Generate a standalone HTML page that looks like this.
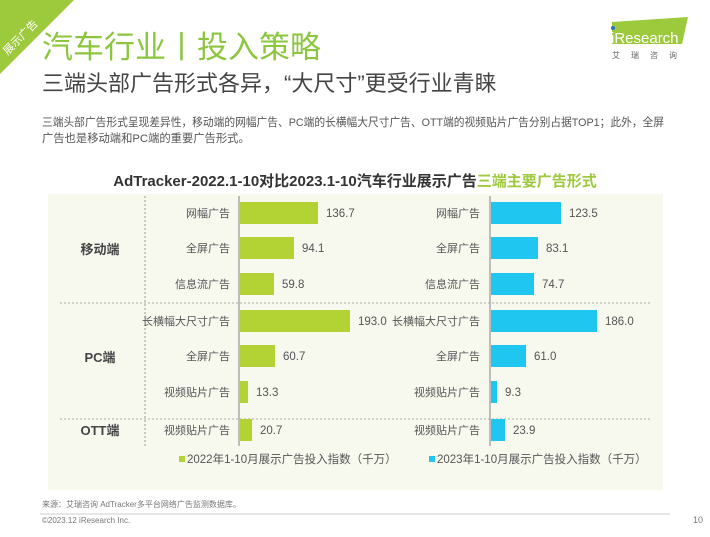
<!DOCTYPE html>
<html><head><meta charset="utf-8"><style>
html,body{margin:0;padding:0;background:#fff;}
body{width:710px;height:532px;overflow:hidden;font-family:"Liberation Sans","Noto Sans CJK SC",sans-serif;}
</style></head><body>
<svg width="710" height="532" xmlns="http://www.w3.org/2000/svg" font-family="Liberation Sans, Noto Sans CJK SC, sans-serif">
<polygon points="0,0 74,0 0,74" fill="#9dc93c"/>
<text x="0" y="0" transform="translate(23,40) rotate(-45)" font-size="11" fill="#fff" text-anchor="middle">展示广告</text>
<text x="42" y="58" font-size="31" fill="#8cc63f">汽车行业丨投入策略</text>
<text x="42" y="91" font-size="22" fill="#444">三端头部广告形式各异，“大尺寸”更受行业青睐</text>
<text x="42" y="126" font-size="11.3" fill="#555" textLength="622" lengthAdjust="spacingAndGlyphs">三端头部广告形式呈现差异性，移动端的网幅广告、PC端的长横幅大尺寸广告、OTT端的视频贴片广告分别占据TOP1；此外，全屏</text>
<text x="42" y="142" font-size="11.3" fill="#555">广告也是移动端和PC端的重要广告形式。</text>
<polygon points="612,22 688,17 682,44 612,44" fill="#9dc93c"/>
<circle cx="613" cy="28" r="2" fill="#2a6fc9"/>
<text x="611" y="43" font-size="15" fill="#fff">iResearch</text>
<text x="612" y="58" font-size="8" fill="#666" letter-spacing="11">艾瑞咨询</text>
<text x="355" y="186" font-size="15" font-weight="bold" fill="#333" text-anchor="middle">AdTracker-2022.1-10对比2023.1-10汽车行业展示广告<tspan fill="#9dc93c">三端主要广告形式</tspan></text>
<rect x="48" y="194" width="615" height="296" fill="#f7f9ef"/>
<line x1="145" y1="196" x2="145" y2="446" stroke="#999" stroke-dasharray="2,2"/>
<line x1="60" y1="303" x2="650" y2="303" stroke="#aaa" stroke-dasharray="2,2"/>
<line x1="60" y1="419" x2="650" y2="419" stroke="#aaa" stroke-dasharray="2,2"/>
<line x1="239" y1="196" x2="239" y2="446" stroke="#aaa" stroke-width="1.5"/>
<line x1="490" y1="196" x2="490" y2="446" stroke="#aaa" stroke-width="1.5"/>
<g font-size="13" font-weight="bold" fill="#444" text-anchor="middle">
<text x="100" y="254">移动端</text><text x="100" y="362">PC端</text><text x="100" y="435">OTT端</text></g>
<g font-size="11" fill="#555" text-anchor="end">
<text x="230" y="217">网幅广告</text><text x="230" y="252">全屏广告</text><text x="230" y="288">信息流广告</text>
<text x="230" y="325">长横幅大尺寸广告</text><text x="230" y="360">全屏广告</text><text x="230" y="396">视频贴片广告</text><text x="230" y="434">视频贴片广告</text>
<text x="480" y="217">网幅广告</text><text x="480" y="252">全屏广告</text><text x="480" y="288">信息流广告</text>
<text x="480" y="325">长横幅大尺寸广告</text><text x="480" y="360">全屏广告</text><text x="480" y="396">视频贴片广告</text><text x="480" y="434">视频贴片广告</text></g>
<g fill="#b3d335">
<rect x="240" y="202" width="78" height="22"/><rect x="240" y="237" width="54" height="22"/><rect x="240" y="273" width="34" height="22"/>
<rect x="240" y="310" width="110" height="22"/><rect x="240" y="345" width="35" height="22"/><rect x="240" y="381" width="8" height="22"/><rect x="240" y="419" width="12" height="22"/></g>
<g fill="#1fc6f0">
<rect x="491" y="202" width="70" height="22"/><rect x="491" y="237" width="47" height="22"/><rect x="491" y="273" width="43" height="22"/>
<rect x="491" y="310" width="106" height="22"/><rect x="491" y="345" width="35" height="22"/><rect x="491" y="381" width="6" height="22"/><rect x="491" y="419" width="14" height="22"/></g>
<g font-size="11.5" fill="#555">
<text x="326" y="217">136.7</text><text x="302" y="252">94.1</text><text x="282" y="288">59.8</text>
<text x="358" y="325">193.0</text><text x="283" y="360">60.7</text><text x="256" y="396">13.3</text><text x="260" y="434">20.7</text>
<text x="569" y="217">123.5</text><text x="546" y="252">83.1</text><text x="542" y="288">74.7</text>
<text x="605" y="325">186.0</text><text x="534" y="360">61.0</text><text x="505" y="396">9.3</text><text x="513" y="434">23.9</text></g>
<rect x="179" y="456" width="6" height="6" fill="#b3d335"/>
<text x="187" y="463" font-size="11.5" fill="#555">2022年1-10月展示广告投入指数（千万）</text>
<rect x="429" y="456" width="6" height="6" fill="#1fc6f0"/>
<text x="437" y="463" font-size="11.5" fill="#555">2023年1-10月展示广告投入指数（千万）</text>
<text x="42" y="507" font-size="8" fill="#777">来源：艾瑞咨询 AdTracker多平台网络广告监测数据库。</text>
<line x1="40" y1="514" x2="670" y2="514" stroke="#ccc"/>
<text x="42" y="523" font-size="8" fill="#777">©2023.12 iResearch Inc.</text>
<text x="693" y="523" font-size="9" fill="#777">10</text>
</svg>
</body></html>
